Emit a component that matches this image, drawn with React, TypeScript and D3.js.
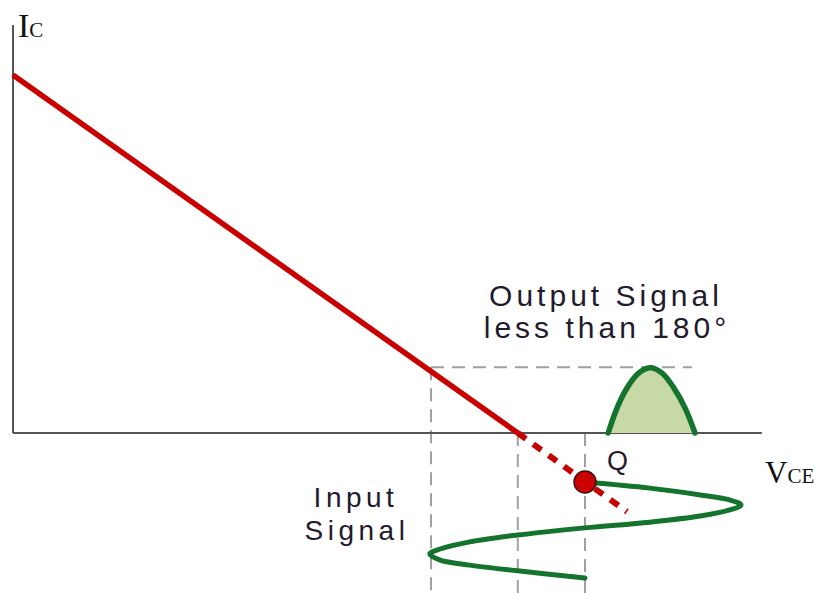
import React from "react";
import * as d3 from "d3";

const W = 820;
const H = 595;

// Load line: [VCE, IC]
const loadLine: [number, number][] = [[0, 100], [63.1, 0]];
const loadLineExt: [number, number][] = [[63.1, 0], [76.75, -22]];
const qPoint: [number, number] = [71.5, -13.7];

// Projection guides
const guideVs = [52.25, 63.1, 71.5];
const guideTops = [18.4, 0, 0];
const guideBottom = -47;
const outputPeak = 18.4;
const outputGuideEnd = 84.9;

// Output signal (clipped half cycle)
const outputV = [74.4, 75.4, 76.6, 78.1, 79.6, 81.1, 82.6, 84.0, 85.25];
const outputI = [0, 6.4, 12.0, 16.5, 18.2, 16.8, 12.6, 7.0, 0];

// Input signal (vertical time axis)
const inputV = [71.5, 79.6, 85.9, 89.6, 91.0, 89.6, 85.9, 79.6, 71.5, 63.1, 57.1, 53.4, 52.1, 53.4, 57.1, 63.1, 71.5];
const inputI = [-13.7, -15.4, -17.3, -18.7, -20.1, -21.5, -23.2, -24.9, -26.5, -28.5, -30.4, -32.4, -33.8, -35.5, -36.9, -38.5, -40.5];

const axisXMax = 93.6;
const axisYMax = 114;

export default function App() {
  const x = d3.scaleLinear().domain([0, 100]).range([13, 813]);
  const y = d3.scaleLinear().domain([0, 100]).range([433, 75]);

  const line = d3.line<[number, number]>().x((d) => x(d[0])).y((d) => y(d[1]));
  const smooth = d3
    .line<[number, number]>()
    .x((d) => x(d[0]))
    .y((d) => y(d[1]))
    .curve(d3.curveCatmullRom.alpha(0.5));
  const area = d3
    .area<[number, number]>()
    .x((d) => x(d[0]))
    .y0(y(0))
    .y1((d) => y(d[1]))
    .curve(d3.curveCatmullRom.alpha(0.5));

  const outPts: [number, number][] = outputV.map((v, i) => [v, outputI[i]]);
  const inPts: [number, number][] = inputV.map((v, i) => [v, inputI[i]]);

  const textColor = "#231a2e";
  const sans = "'Liberation Sans', Arial, sans-serif";
  const serif = "'Liberation Serif', 'Times New Roman', serif";

  return (
    <svg width={W} height={H} style={{ position: "absolute", left: 0, top: 0, background: "#fff" }}>
      {/* guides */}
      <g stroke="#a0a0a0" strokeWidth={2} strokeDasharray="13 8" fill="none">
        {guideVs.map((v, i) => (
          <line key={i} x1={x(v)} x2={x(v)} y1={y(guideTops[i])} y2={y(guideBottom)} />
        ))}
        <line x1={x(guideVs[0])} x2={x(outputGuideEnd)} y1={y(outputPeak)} y2={y(outputPeak)} />
      </g>

      {/* axes */}
      <g stroke="#555" strokeWidth={2}>
        <line x1={x(0)} x2={x(0)} y1={y(axisYMax)} y2={y(0)} />
        <line x1={x(0)} x2={x(axisXMax)} y1={y(0)} y2={y(0)} />
      </g>

      {/* output signal */}
      <path d={area(outPts) || ""} fill="#c6d9a6" />
      <path d={smooth(outPts) || ""} fill="none" stroke="#14732c" strokeWidth={5.5} strokeLinecap="round" />

      {/* load line */}
      <path d={line(loadLine) || ""} stroke="#c80000" strokeWidth={5.5} fill="none" />
      <path d={line(loadLineExt) || ""} stroke="#c80000" strokeWidth={6} strokeDasharray="10 9" fill="none" />

      {/* input signal */}
      <path d={smooth(inPts) || ""} fill="none" stroke="#14732c" strokeWidth={5} strokeLinecap="round" />

      {/* Q point */}
      <circle cx={x(qPoint[0])} cy={y(qPoint[1])} r={11} fill="#cc0000" stroke="#3a1010" strokeWidth={1.5} />

      {/* labels */}
      <text x={18} y={37} fontFamily={serif} fontSize={34} fill="#111">
        I<tspan fontSize={21}>C</tspan>
      </text>
      <text x={765} y={483} fontFamily={serif} fontSize={31} fill="#111">
        V<tspan fontSize={21}>CE</tspan>
      </text>
      <text x={607} y={470} fontFamily={sans} fontSize={27} fill={textColor}>Q</text>
      <g fontFamily={sans} fontSize={30} fill={textColor} textAnchor="middle" letterSpacing={4}>
        <text x={606} y={306}>Output Signal</text>
        <text x={607} y={338}>less than 180°</text>
      </g>
      <g fontFamily={sans} fontSize={28} fill={textColor} textAnchor="middle" letterSpacing={4.5}>
        <text x={356} y={507}>Input</text>
        <text x={357} y={540}>Signal</text>
      </g>
    </svg>
  );
}
